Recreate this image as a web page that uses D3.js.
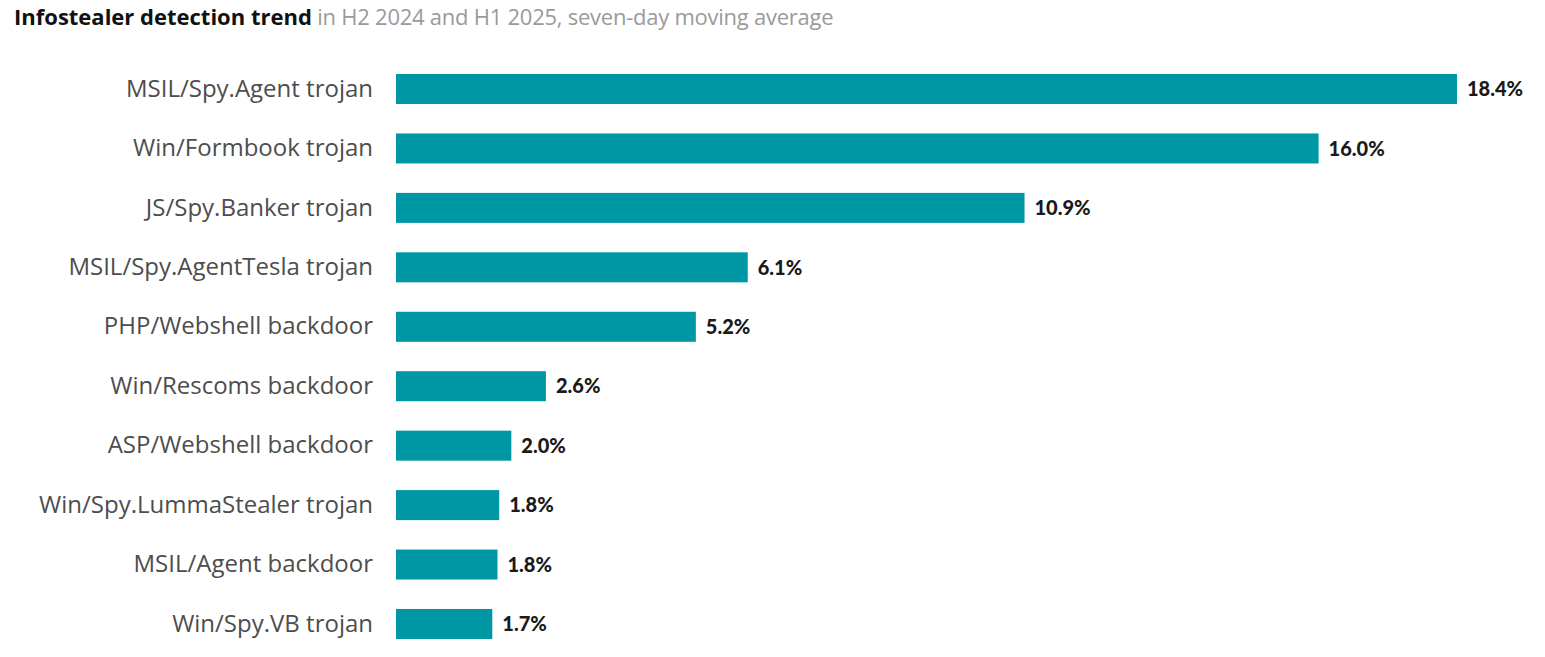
<!DOCTYPE html>
<html>
<head>
<meta charset="utf-8">
<script src="https://cdn.jsdelivr.net/npm/d3@7"></script>
<style>
  body { margin: 0; background: #fff; }
  .title { font-family: "Open Sans", sans-serif; font-size: 22px; }
  .cat { font-family: "Open Sans", sans-serif; font-size: 24px; fill: #4d4d4d; }
  .val { font-family: "Lato", sans-serif; font-size: 20px; font-weight: 900; fill: #1a1a1a; }
</style>
</head>
<body>
<div id="graph"></div>
<script>

// chart data
var categories = [
    "MSIL/Spy.Agent trojan",
    "Win/Formbook trojan",
    "JS/Spy.Banker trojan",
    "MSIL/Spy.AgentTesla trojan",
    "PHP/Webshell backdoor",
    "Win/Rescoms backdoor",
    "ASP/Webshell backdoor",
    "Win/Spy.LummaStealer trojan",
    "MSIL/Agent backdoor",
    "Win/Spy.VB trojan"
];
var shares = [18.4, 16.0, 10.9, 6.1, 5.2, 2.6, 2.0, 1.79, 1.76, 1.67];
var valueLabels = ["18.4%", "16.0%", "10.9%", "6.1%", "5.2%", "2.6%", "2.0%", "1.8%", "1.8%", "1.7%"];

var titleBold = "Infostealer detection trend";
var titleRest = " in H2 2024 and H1 2025, seven-day moving average";

function drawGraph(){

    var width = 1545, height = 657;
    var margin = {top: 74, left: 396};

    var svg = d3.select("#graph").append("svg")
        .attr("width", width)
        .attr("height", height);

    // title
    var title = svg.append("text")
        .attr("class", "title")
        .attr("x", 14)
        .attr("y", 25);
    title.append("tspan")
        .attr("font-weight", 700)
        .attr("fill", "#111")
        .text(titleBold);
    title.append("tspan")
        .attr("fill", "#9a9a9a")
        .attr("letter-spacing", "-0.25")
        .text(titleRest);

    var xScale = d3.scaleLinear()
        .domain([0, 18.4])
        .range([0, 1061]);

    // step 59.44px, bar 30px
    var yScale = d3.scaleBand()
        .domain(categories)
        .range([0, 565])
        .paddingInner(0.495)
        .paddingOuter(0);

    var g = svg.append("g")
        .attr("transform", "translate(" + margin.left + "," + margin.top + ")");

    var rows = categories.map(function(c, i){
        return {cat: c, v: shares[i], label: valueLabels[i]};
    });

    // bars
    g.selectAll(".bar")
        .data(rows)
        .enter().append("rect")
        .attr("class", "bar")
        .attr("x", 0)
        .attr("y", function(d) { return yScale(d.cat); })
        .attr("width", function(d) { return xScale(d.v); })
        .attr("height", yScale.bandwidth())
        .attr("fill", "#0097a4");

    // category labels (axis without line/ticks)
    var yAxis = g.append("g")
        .call(d3.axisLeft(yScale).tickSize(0).tickPadding(23));
    yAxis.select(".domain").remove();
    yAxis.selectAll("text")
        .attr("class", "cat")
        .attr("font-family", null)
        .attr("font-size", null)
        .attr("fill", null);

    // value labels
    g.selectAll(".val")
        .data(rows)
        .enter().append("text")
        .attr("class", "val")
        .attr("x", function(d) { return xScale(d.v) + 10; })
        .attr("y", function(d) { return yScale(d.cat) + yScale.bandwidth() / 2; })
        .attr("dy", "0.36em")
        .text(function(d) { return d.label; });
}

drawGraph();
</script>
</body>
</html>
